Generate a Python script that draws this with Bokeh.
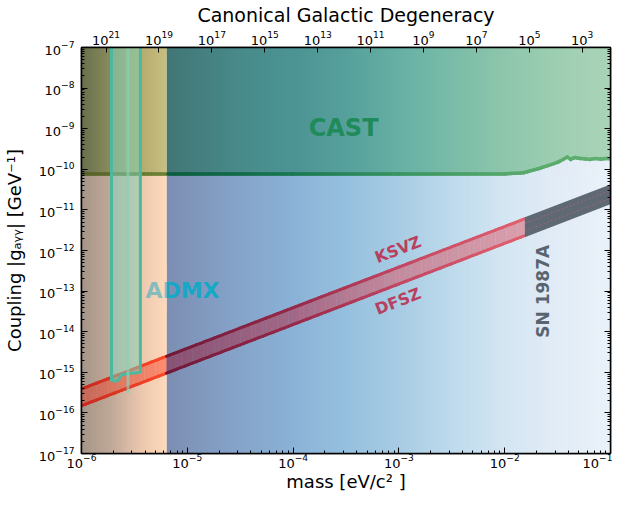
import numpy as np
from bokeh.plotting import figure
from bokeh.models import Range1d, LogScale, LogAxis, FixedTicker, Label
from bokeh.embed import file_html
from bokeh.resources import INLINE

# ---------------- data ----------------
mass_range = [1e-6, 1e-1]
coupling_range = [1e-17, 1e-7]
mass_ticks = [1e-6, 1e-5, 1e-4, 1e-3, 1e-2, 1e-1]
coupling_ticks = [1e-17, 1e-16, 1e-15, 1e-14, 1e-13, 1e-12, 1e-11, 1e-10, 1e-9, 1e-8, 1e-7]
degeneracy_ticks = [1e21, 1e19, 1e17, 1e15, 1e13, 1e11, 1e9, 1e7, 1e5, 1e3]
degeneracy_norm = 10 ** -2.07          # N = norm * m^-4

left_region_edge = 6.4e-6              # mass where the orange region ends

ksvz_coupling_1ueV = 3.9e-16           # g at m = 1e-6 eV, g ∝ m
dfsz_coupling_1ueV = 1.5e-16
band_end_mass = 1.55e-2                # SN 1987A beyond
sn_mass_end = 1e-1

cast_mass = [1e-6, 1e-5, 1e-4, 1e-3, 1e-2, 1.5e-2, 2.2e-2, 3.2e-2, 3.9e-2,
             4.2e-2, 4.6e-2, 5.2e-2, 5.8e-2, 6.4e-2, 7.2e-2, 8.1e-2, 9.0e-2, 1e-1]
cast_coupling = [7.7e-11, 7.7e-11, 7.7e-11, 7.7e-11, 7.7e-11, 8.2e-11, 1.08e-10, 1.5e-10, 2.0e-10,
                 1.75e-10, 1.95e-10, 1.85e-10, 1.8e-10, 1.75e-10, 1.85e-10, 1.78e-10, 1.85e-10, 1.8e-10]

admx_mass = [1.92e-6, 1.92e-6, 2.2e-6, 2.38e-6, 2.6e-6, 3.6e-6, 3.6e-6]
admx_coupling = [1.5e-7, 6.2e-16, 6.2e-16, 8.6e-16, 9.1e-16, 1.0e-15, 1.5e-7]
admx_run2_mass = 2.75e-6
admx_run2_coupling = [1.5e-7, 3.0e-16]

# ---------------- styles ----------------
FONT = "DejaVu Sans"
left_below = [(-6.0, (166, 150, 136)), (-5.72, (192, 168, 152)), (-5.43, (236, 200, 175)), (-5.194, (255, 218, 188))]
left_above = [(-6.0, (104, 112, 76)), (-5.72, (140, 140, 94)), (-5.43, (182, 172, 112)), (-5.194, (200, 192, 128))]
blue_below = [(-5.194, (124, 142, 178)), (-4.5, (134, 164, 202)), (-4.0, (138, 178, 214)), (-3.5, (150, 192, 222)),
              (-3.0, (168, 204, 228)), (-2.5, (190, 218, 236)), (-2.0, (212, 230, 242)), (-1.5, (226, 236, 246)),
              (-1.0, (234, 241, 249))]
green_above = [(-5.194, (66, 118, 118)), (-4.5, (72, 138, 138)), (-4.0, (76, 148, 148)), (-3.5, (86, 160, 156)),
               (-3.0, (102, 176, 164)), (-2.5, (122, 188, 168)), (-2.0, (142, 198, 172)), (-1.5, (158, 206, 178)),
               (-1.0, (170, 212, 184))]
cast_line_left = [(-6.0, (84, 96, 40)), (-5.194, (112, 132, 52))]
cast_line_right = [(-5.194, (10, 92, 62)), (-4.0, (26, 120, 80)), (-3.0, (56, 148, 96)), (-2.0, (86, 168, 106)), (-1.0, (96, 176, 112))]
band_fill_left = [(-6.0, (196, 104, 88)), (-5.194, (255, 140, 110))]
band_fill_right = [(-5.194, (136, 82, 116)), (-4.0, (162, 104, 134)), (-3.0, (196, 140, 158)), (-1.8, (218, 158, 172))]
band_line_left = [(-6.0, (198, 40, 30)), (-5.194, (255, 72, 40))]
band_line_right = [(-5.194, (112, 24, 56)), (-4.0, (150, 40, 72)), (-3.0, (194, 70, 98)), (-1.8, (226, 96, 110))]


def ramp(stops, lm):
    pos = [s[0] for s in stops]
    cols = np.array([s[1] for s in stops], float)
    return np.stack([np.interp(lm, pos, cols[:, k]) for k in range(3)], axis=-1)


def split_ramp(lstops, rstops, lm):
    edge = np.log10(left_region_edge)
    lm = np.atleast_1d(lm)
    return np.where((lm < edge)[:, None], ramp(lstops, lm), ramp(rstops, lm))


def hexes(rgb):
    return ["#%02x%02x%02x" % tuple(int(round(v)) for v in c) for c in rgb]


def grad_img(stops, lm0, lm1, n):
    lm = lm0 + (np.arange(n) + 0.5) / n * (lm1 - lm0)
    rgb = ramp(stops, lm)
    img = np.zeros((1, n), dtype=np.uint32)
    v = img.view(np.uint8).reshape(1, n, 4)
    v[0, :, 0:3] = np.round(rgb).astype(np.uint8)
    v[0, :, 3] = 255
    return img


def ksvz(m):
    return ksvz_coupling_1ueV * np.asarray(m) / 1e-6


def dfsz(m):
    return dfsz_coupling_1ueV * np.asarray(m) / 1e-6


def degeneracy(m):
    return degeneracy_norm * m ** -4


# ---------------- figure ----------------
p = figure(width=612, height=494, x_axis_type="log", y_axis_type="log",
           x_range=Range1d(*mass_range), y_range=Range1d(*coupling_range),
           output_backend="svg", toolbar_location=None,
           min_border_left=72, min_border_top=39, min_border_bottom=39, min_border_right=2)
p.grid.visible = False
p.outline_line_color = "black"
p.outline_line_width = 1.5
p.background_fill_color = "white"

lm_min, lm_max = np.log10(mass_range[0]), np.log10(mass_range[1])
lm_edge = np.log10(left_region_edge)
g_base = cast_coupling[0]

# background regions
p.image_rgba(image=[grad_img(left_below, lm_min, lm_edge, 90)], x=mass_range[0], y=coupling_range[0],
             dw=left_region_edge - mass_range[0], dh=g_base - coupling_range[0])
p.image_rgba(image=[grad_img(left_above, lm_min, lm_edge, 90)], x=mass_range[0], y=g_base,
             dw=left_region_edge - mass_range[0], dh=coupling_range[1] - g_base)
p.image_rgba(image=[grad_img(blue_below, lm_edge, lm_max, 450)], x=left_region_edge, y=coupling_range[0],
             dw=mass_range[1] - left_region_edge, dh=g_base - coupling_range[0])
p.image_rgba(image=[grad_img(green_above, lm_edge, lm_max, 450)], x=left_region_edge, y=g_base,
             dw=mass_range[1] - left_region_edge, dh=coupling_range[1] - g_base)

# blue under the rising part of the CAST limit
xs, ys, cs = [], [], []
for i in range(len(cast_mass) - 1):
    if cast_coupling[i] > g_base or cast_coupling[i + 1] > g_base:
        m0, m1 = cast_mass[i], cast_mass[i + 1] * 1.01
        xs.append([m0, m1, m1, m0])
        ys.append([g_base * 0.97, g_base * 0.97, cast_coupling[i + 1], cast_coupling[i]])
        cs.append(hexes(ramp(blue_below, [0.5 * (np.log10(cast_mass[i]) + np.log10(cast_mass[i + 1]))]))[0])
p.patches(xs, ys, fill_color=cs, line_color=None)

# ADMX label as a text glyph drawn under the left-region overlay
p.text(x=[9.0e-6], y=[1.05e-13], text=["ADMX"], text_align="center", text_baseline="middle",
       text_font={"value": FONT}, text_font_style="bold", text_font_size="22px", text_color="#17a7c7")
p.image_rgba(image=[grad_img(left_below, lm_min, lm_edge, 90)], x=mass_range[0], y=3e-14,
             dw=left_region_edge - mass_range[0], dh=4e-13 - 3e-14, global_alpha=0.5)

# CAST boundary line with colour gradient
lcm = np.log10(cast_mass)
lcg = np.log10(cast_coupling)
lm_all = np.unique(np.concatenate([np.linspace(lm_min, lm_max, 160), lcm]))
lg_all = np.interp(lm_all, lcm, lcg)
mid = 0.5 * (lm_all[:-1] + lm_all[1:])
p.segment(x0=10 ** lm_all[:-1], y0=10 ** lg_all[:-1], x1=10 ** lm_all[1:], y1=10 ** lg_all[1:],
          line_color=hexes(split_ramp(cast_line_left, cast_line_right, mid)), line_width=3.5, line_cap="round")

# KSVZ / DFSZ band
lm_band = np.linspace(lm_min, np.log10(band_end_mass), 121)
m_band = 10 ** lm_band
mid_b = 0.5 * (lm_band[:-1] + lm_band[1:])
bx, by = [], []
for i in range(len(m_band) - 1):
    m0 = m_band[i]
    m1 = m_band[i + 1] * (1.006 if i < len(m_band) - 2 else 1.0)
    bx.append([m0, m1, m1, m0])
    by.append([float(dfsz(m0)), float(dfsz(m1)), float(ksvz(m1)), float(ksvz(m0))])
p.patches(bx, by, fill_color=hexes(split_ramp(band_fill_left, band_fill_right, mid_b)), line_color=None)
line_cols = hexes(split_ramp(band_line_left, band_line_right, mid_b))
for fn in (ksvz, dfsz):
    p.segment(x0=m_band[:-1], y0=fn(m_band[:-1]), x1=m_band[1:], y1=fn(m_band[1:]),
              line_color=line_cols, line_width=3, line_cap="round")

# SN 1987A
sx = [band_end_mass, sn_mass_end * 1.2, sn_mass_end * 1.2, band_end_mass]
sy = [float(dfsz(band_end_mass)) / 1.09, float(dfsz(sn_mass_end * 1.2)) / 1.09,
      float(ksvz(sn_mass_end * 1.2)) * 1.09, float(ksvz(band_end_mass)) * 1.09]
p.patch(sx, sy, fill_color="#5f6974", line_color=None)
for fn, f in ((ksvz, 1 / 1.3), (dfsz, 1.3)):
    p.line([band_end_mass, sn_mass_end * 1.2], [float(fn(band_end_mass)) * f, float(fn(sn_mass_end * 1.2)) * f],
           line_color="#d86878", line_width=0.8, line_dash="2 2", line_alpha=0.6)

# ADMX exclusion
p.patch(admx_mass, admx_coupling, fill_color="#82d7be", fill_alpha=0.5, line_color="#4cb8a0", line_width=3)
p.line([admx_run2_mass, admx_run2_mass], admx_run2_coupling, line_color="#8ccfb4", line_width=3, line_alpha=0.7)

# labels
p.add_layout(Label(x=3.0e-4, y=1.03e-9, text="CAST", text_align="center", text_baseline="middle",
                   text_font=FONT, text_font_style="bold", text_font_size="24px", text_color="#1f8a5a"))
ang = float(np.arctan(40.8 / 106.0))
p.add_layout(Label(x=9.8e-4, y=1.06e-12, text="KSVZ", angle=ang, text_align="center", text_baseline="middle",
                   text_font=FONT, text_font_style="bold", text_font_size="16px", text_color="#b8405e"))
p.add_layout(Label(x=9.8e-4, y=5.6e-14, text="DFSZ", angle=ang, text_align="center", text_baseline="middle",
                   text_font=FONT, text_font_style="bold", text_font_size="16px", text_color="#b8405e"))
p.add_layout(Label(x=2.28e-2, y=9.9e-14, text="SN 1987A", angle=float(np.pi / 2), text_align="center",
                   text_baseline="middle", text_font=FONT, text_font_style="bold", text_font_size="17px",
                   text_color="#5a6470"))

# ---------------- axes ----------------
minor_x = [k * 10.0 ** e for e in range(-6, -1) for k in range(2, 10)]
minor_y = [k * 10.0 ** e for e in range(-17, -7) for k in range(2, 10)]
bottom = p.below[0]
left = p.left[0]
bottom.ticker = FixedTicker(ticks=mass_ticks, minor_ticks=minor_x)
left.ticker = FixedTicker(ticks=coupling_ticks, minor_ticks=minor_y)
bottom.axis_label = "mass [eV/c² ]"
left.axis_label = "Coupling |gₐᵧᵧ| [GeV⁻¹]"

p.extra_x_ranges = {"deg": Range1d(start=degeneracy(mass_range[0]), end=degeneracy(mass_range[1]))}
p.extra_x_scales = {"deg": LogScale()}
top = LogAxis(x_range_name="deg", ticker=FixedTicker(ticks=degeneracy_ticks, minor_ticks=[]),
              axis_label="Canonical Galactic Degeneracy")
p.add_layout(top, "above")
right = LogAxis(ticker=FixedTicker(ticks=coupling_ticks, minor_ticks=minor_y))
p.add_layout(right, "right")

for ax in [bottom, left, top, right]:
    ax.major_tick_in = 6
    ax.major_tick_out = 0
    ax.minor_tick_in = 3
    ax.minor_tick_out = 0
    ax.axis_line_width = 1.5
    ax.major_tick_line_width = 1
    ax.major_label_text_font = FONT
    ax.major_label_text_font_size = "13px"
    ax.major_label_text_color = "black"
    ax.major_label_standoff = 3
    ax.axis_label_text_font = FONT
    ax.axis_label_text_font_size = "18px"
    ax.axis_label_text_font_style = "normal"
    ax.axis_label_text_color = "black"
    ax.axis_label_standoff = 4
top.major_tick_in = 5
top.axis_label_standoff = 2
top.axis_label_text_font_size = "19px"
left.major_label_standoff = 7
left.axis_label_standoff = 11
bottom.major_label_standoff = 0
bottom.axis_label_standoff = 0
right.major_label_text_font_size = "2px"
right.major_label_text_color = None
right.major_label_standoff = 0

open("out.html", "w").write(file_html(p, INLINE))
